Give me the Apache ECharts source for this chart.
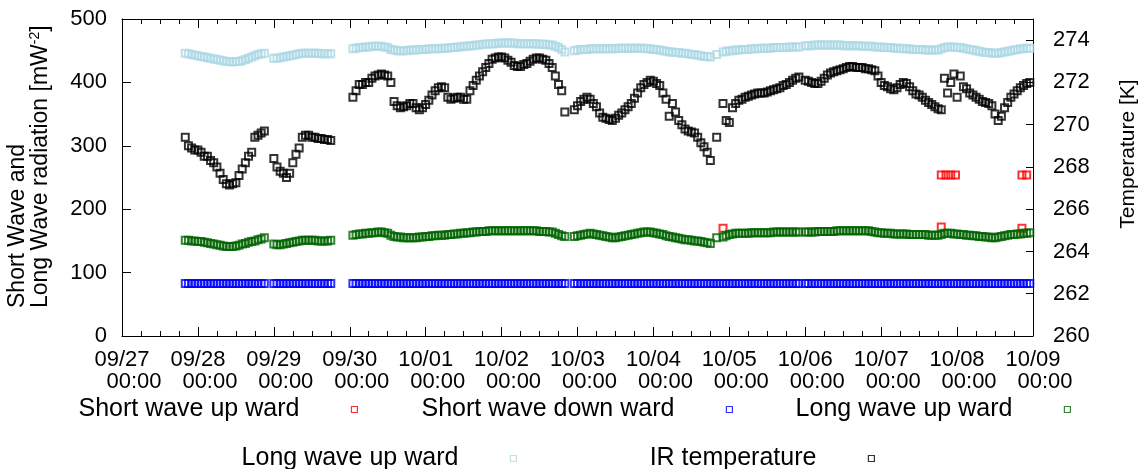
<!DOCTYPE html>
<html>
<head>
<meta charset="utf-8">
<script src="https://cdn.jsdelivr.net/npm/echarts@6/dist/echarts.min.js"></script>
<style>
  html, body { margin: 0; padding: 0; background: #fff; }
  #chart { width: 1140px; height: 469px; }
</style>
</head>
<body>
<div id="chart"></div>
<script>
// x axis: hours since 09/27 00:00, one tick label per day
var dayLabels = ['09/27', '09/28', '09/29', '09/30', '10/01', '10/02', '10/03',
  '10/04', '10/05', '10/06', '10/07', '10/08', '10/09']
var timeLabel = '00:00'
var firstHour = 20   // first hourly sample is 09/27 20:00

// IR temperature [K], hourly from 09/27 20:00 (null = no data)
var irTemp = [
  269.4, 269.0, 268.9, 268.8,
  268.8, 268.7, 268.5, 268.5, 268.3, 268.2, 268.0, 267.7, 267.4, 267.2, 267.15, 267.2,
  267.25, 267.6, 267.9, 268.2, 268.5, 268.7, 269.4, 269.5, 269.6, 269.7, null, null,
  268.4, 268.0, 267.8, 267.7, 267.5, 267.7, 268.2, 268.6, 268.9, 269.4, 269.5, 269.5,
  269.4, 269.4, 269.35, 269.35, 269.3, 269.3, 269.25, null, null, null, null, null,
  null, 271.3, 271.6, 271.9, 271.9, 272.0, 272.0, 272.2, 272.3, 272.35, 272.4, 272.35,
  272.3, 272.0, 271.1, 270.9, 270.8, 270.85, 270.9, 271.0, 271.0, 270.8, 270.7, 270.8,
  270.95, 271.15, 271.4, 271.6, 271.75, 271.8, 271.75, 271.3, 271.2, 271.25, 271.3, 271.3,
  271.2, 271.2, 271.6, 271.85, 272.1, 272.3, 272.5, 272.7, 272.9, 273.1, 273.15, 273.2,
  273.2, 273.15, 273.05, 272.95, 272.8, 272.75, 272.75, 272.85, 272.9, 273.0, 273.1, 273.15,
  273.15, 273.1, 273.05, 272.9, 272.7, 272.3, 271.9, 271.6, 270.6, null, null, 270.7,
  270.9, 271.1, 271.2, 271.3, 271.2, 271.0, 270.85, 270.55, 270.35, 270.3, 270.25, 270.2,
  270.3, 270.45, 270.55, 270.7, 270.85, 271.0, 271.25, 271.5, 271.75, 271.9, 272.0, 272.1,
  272.05, 271.95, 271.85, 271.5, 271.2, 270.4, 271.0, 270.6, 270.2, 270.0, 269.8, 269.7,
  269.65, 269.6, 269.4, 269.15, 268.95, 268.7, 268.3, null, 269.4, null, 271.0, 270.2,
  270.1, 270.8, 271.0, 271.15, 271.2, 271.3, 271.35, 271.4, 271.45, 271.5, 271.5, 271.5,
  271.55, 271.6, 271.65, 271.7, 271.75, 271.85, 271.9, 272.0, 272.1, 272.2, 272.25, null,
  272.1, 272.05, 272.0, 271.95, 271.95, 272.05, 272.2, 272.35, 272.45, 272.5, 272.55, 272.6,
  272.65, 272.7, 272.75, 272.75, 272.7, 272.7, 272.7, 272.65, 272.65, 272.6, 272.55, 272.3,
  272.0, 271.85, 271.8, 271.7, 271.65, 271.75, 271.9, 272.0, 271.95, 271.8, 271.6, 271.45,
  271.4, 271.3, 271.15, 271.05, 270.95, 270.85, 270.75, 270.7, 272.2, 271.5, 272.0, 272.4,
  271.3, 272.3, 271.8, 271.7, 271.5, 271.4, 271.3, 271.2, 271.1, 271.05, 271.0, 270.9,
  270.5, 270.2, 270.4, 270.8, 271.05, 271.3, 271.45, 271.6, 271.75, 271.85, 271.95, 272.0
]

// long wave up ward (green) [W m-2]
var longUp = [
  151, 151, 150, 150,
  149, 149, 148, 147, 146, 145, 144, 143, 142, 141, 141, 141,
  142, 143, 145, 146, 148, 149, 150, 152, 153, 155, null, null,
  145, 144, 144, 145, 146, 147, 148, 149, 150, 151, 151, 151,
  151, 151, 150, 150, 150, 150, 151, null, null, null, null, null,
  null, 159, 160, 161, 161, 162, 162, 163, 163, 164, 164, 163,
  162, 159, 157, 156, 156, 155, 155, 155, 155, 155, 156, 156,
  157, 157, 158, 158, 159, 159, 159, 160, 160, 161, 161, 162,
  162, 163, 163, 164, 164, 165, 165, 165, 166, 166, 166, 166,
  166, 166, 166, 166, 166, 166, 166, 166, 166, 166, 166, 166,
  165, 165, 165, 164, 164, 162, 160, 158, 157, null, null, 157,
  158, 159, 160, 161, 162, 161, 160, 159, 158, 157, 156, 155,
  155, 156, 157, 158, 159, 160, 161, 162, 163, 164, 164, 164,
  163, 162, 161, 160, 158, 157, 156, 155, 154, 153, 152, 152,
  151, 150, 150, 149, 148, 147, 146, null, 155, null, 156, 158,
  160, 161, 162, 162, 162, 162, 162, 163, 163, 163, 163, 163,
  163, 163, 164, 164, 164, 164, 164, 164, 164, 164, 164, null,
  164, 164, 164, 164, 165, 165, 165, 165, 165, 165, 166, 166,
  166, 166, 166, 166, 166, 166, 166, 166, 166, 165, 164, 163,
  163, 162, 162, 162, 161, 161, 161, 161, 161, 160, 160, 160,
  160, 160, 160, 159, 159, 159, 159, 160, 162, 162, 162, 161,
  161, 160, 160, 159, 159, 158, 158, 157, 157, 156, 156, 155,
  155, 156, 157, 158, 159, 160, 160, 161, 161, 162, 162, 163
]

// second "long wave up ward" series (light blue) [W m-2]
var longDown = [
  446, 445, 444, 443,
  442, 441, 440, 439, 438, 437, 436, 435, 434, 433, 433, 432,
  433, 433, 434, 436, 438, 440, 442, 444, 445, 446, null, null,
  438, 438, 439, 440, 441, 442, 443, 444, 445, 446, 446, 446,
  446, 446, 446, 445, 445, 445, 445, null, null, null, null, null,
  null, 453, 454, 455, 455, 456, 456, 457, 457, 457, 457, 456,
  455, 452, 451, 450, 450, 450, 450, 451, 451, 451, 452, 452,
  452, 453, 453, 453, 453, 454, 454, 454, 455, 455, 456, 456,
  457, 457, 458, 458, 459, 459, 460, 460, 461, 461, 461, 462,
  462, 462, 462, 462, 462, 461, 461, 461, 461, 461, 461, 461,
  460, 460, 460, 459, 459, 457, 455, 452, 448, null, null, 450,
  451, 452, 452, 452, 453, 453, 453, 453, 453, 453, 453, 453,
  453, 454, 454, 454, 454, 454, 454, 454, 454, 454, 453, 453,
  452, 452, 451, 450, 449, 448, 448, 447, 447, 446, 446, 445,
  444, 444, 443, 442, 441, 441, 440, null, 444, null, 448, 449,
  450, 450, 451, 451, 452, 452, 452, 453, 453, 453, 454, 454,
  454, 454, 455, 455, 455, 455, 455, 456, 456, 456, 456, null,
  458, 458, 458, 459, 459, 459, 459, 459, 459, 459, 459, 459,
  458, 458, 458, 458, 458, 458, 457, 457, 457, 457, 456, 456,
  456, 455, 455, 455, 454, 454, 454, 453, 453, 453, 452, 452,
  452, 452, 451, 451, 451, 451, 451, 453, 455, 456, 456, 456,
  455, 455, 454, 453, 452, 451, 450, 449, 448, 447, 447, 446,
  446, 446, 447, 448, 449, 450, 451, 452, 453, 453, 454, 454
]

// short wave down ward (blue) [W m-2]
var shortDown = [
  83, 83, 83, 83,
  83, 83, 83, 83, 83, 83, 83, 83, 83, 83, 83, 83,
  83, 83, 83, 83, 83, 83, 83, 83, 83, 83, null, null,
  83, 83, 83, 83, 83, 83, 83, 83, 83, 83, 83, 83,
  83, 83, 83, 83, 83, 83, 83, null, null, null, null, null,
  null, 83, 83, 83, 83, 83, 83, 83, 83, 83, 83, 83,
  83, 83, 83, 83, 83, 83, 83, 83, 83, 83, 83, 83,
  83, 83, 83, 83, 83, 83, 83, 83, 83, 83, 83, 83,
  83, 83, 83, 83, 83, 83, 83, 83, 83, 83, 83, 83,
  83, 83, 83, 83, 83, 83, 83, 83, 83, 83, 83, 83,
  83, 83, 83, 83, 83, 83, 83, 83, 83, null, null, 83,
  83, 83, 83, 83, 83, 83, 83, 83, 83, 83, 83, 83,
  83, 83, 83, 83, 83, 83, 83, 83, 83, 83, 83, 83,
  83, 83, 83, 83, 83, 83, 83, 83, 83, 83, 83, 83,
  83, 83, 83, 83, 83, 83, 83, 83, 83, 83, 83, 83,
  83, 83, 83, 83, 83, 83, 83, 83, 83, 83, 83, 83,
  83, 83, 83, 83, 83, 83, 83, 83, 83, 83, 83, null,
  83, 83, 83, 83, 83, 83, 83, 83, 83, 83, 83, 83,
  83, 83, 83, 83, 83, 83, 83, 83, 83, 83, 83, 83,
  83, 83, 83, 83, 83, 83, 83, 83, 83, 83, 83, 83,
  83, 83, 83, 83, 83, 83, 83, 83, 83, 83, 83, 83,
  83, 83, 83, 83, 83, 83, 83, 83, 83, 83, 83, 83,
  83, 83, 83, 83, 83, 83, 83, 83, 83, 83, 83, 83
]

// short wave up ward (red): only a few samples are in range
var shortUpHours = [190, 259, 259, 260.5, 262, 263.5, 284.5, 284.5, 286]
var shortUpValues = [170, 172, 254, 254, 254, 254, 170, 254, 254]

function hourly (vals) {
  var out = []
  for (var i = 0; i < vals.length; i++) {
    if (vals[i] != null) out.push([firstHour + i, vals[i]])
  }
  return out
}
function pairs (xs, ys) {
  return xs.map(function (x, i) { return [x, ys[i]] })
}

var FONT = 'Liberation Sans'
function ticks (len) {
  return { show: true, inside: true, length: len, lineStyle: { color: '#000', width: 1 } }
}
var minorStyle = { show: true, splitNumber: 4, length: 5, lineStyle: { color: '#000', width: 1 } }
var border = { show: true, onZero: false, lineStyle: { color: '#000', width: 1 } }

function sq (name, color, data, yIndex) {
  return {
    name: name,
    type: 'scatter',
    data: data,
    yAxisIndex: yIndex || 0,
    symbol: 'rect',
    symbolSize: 7,
    itemStyle: { color: 'rgba(255,255,255,0)', borderColor: color, borderWidth: 2 },
    emphasis: { disabled: true }
  }
}

function legendAt (name, right, top) {
  return {
    data: [name],
    right: right,
    top: top,
    padding: 0,
    align: 'right',
    itemWidth: 6,
    itemHeight: 6,
    selectedMode: false,
    formatter: function (n) { return n.trim() },
    itemStyle: { borderWidth: 1.2 },
    textStyle: { fontFamily: FONT, fontSize: 25, color: '#000', padding: [0, 47, 0, 0] }
  }
}

var series = [
  sq('Short wave up ward', '#ff0000', pairs(shortUpHours, shortUpValues)),
  sq('Short wave down ward', '#0000ff', hourly(shortDown)),
  sq('Long wave up ward', '#006400', hourly(longUp)),
  sq('Long wave up ward ', '#add8e6', hourly(longDown)),
  sq('IR temperature', '#000000', hourly(irTemp), 1)
]

var chart = echarts.init(document.getElementById('chart'))
chart.setOption({
  animation: false,
  backgroundColor: '#fff',
  grid: [
    { left: 122, right: 107, top: 19, bottom: 133 },
    // same width, 12px to the right: carries the second label row ("00:00")
    { left: 134, right: 95, top: 19, bottom: 133 }
  ],
  xAxis: [{
    type: 'value', min: 0, max: 288, interval: 24,
    axisLine: border,
    axisTick: ticks(9),
    minorTick: minorStyle,
    splitLine: { show: false },
    axisLabel: {
      margin: 13, fontFamily: FONT, fontSize: 22, color: '#000',
      showMinLabel: true, showMaxLabel: true,
      formatter: function (v) { return dayLabels[v / 24] }
    }
  }, {
    type: 'value', min: 0, max: 288, interval: 24, position: 'top',
    axisLine: border,
    axisTick: ticks(9),
    minorTick: minorStyle,
    splitLine: { show: false },
    axisLabel: { show: false }
  }, {
    gridIndex: 1, type: 'value', min: 0, max: 288, interval: 24,
    axisLine: { show: false, onZero: false }, axisTick: { show: false }, splitLine: { show: false },
    axisLabel: {
      margin: 35, fontFamily: FONT, fontSize: 22, color: '#000',
      showMinLabel: true, showMaxLabel: true,
      formatter: function () { return timeLabel }
    }
  }],
  yAxis: [{
    type: 'value', min: 0, max: 500, interval: 100,
    axisLine: border,
    axisTick: ticks(9),
    splitLine: { show: false },
    axisLabel: { margin: 15, fontFamily: FONT, fontSize: 22, color: '#000' }
  }, {
    type: 'value', min: 260, max: 275, interval: 2, position: 'right',
    axisLine: border,
    axisTick: ticks(7),
    splitLine: { show: false },
    axisLabel: { margin: 20, fontFamily: FONT, fontSize: 22, color: '#000', showMaxLabel: false }
  }, {
    gridIndex: 1, type: 'value', min: 0, max: 500, show: false
  }],
  legend: [
    legendAt('Short wave up ward', 782, 397),
    legendAt('Short wave down ward', 407, 397),
    legendAt('Long wave up ward', 69, 397),
    legendAt('Long wave up ward ', 623, 446),
    legendAt('IR temperature', 265, 446)
  ],
  graphic: [{
    type: 'text', x: 6, y: 308, rotation: Math.PI / 2,
    style: {
      text: 'Short Wave and\nLong Wave radiation [mW{sup|-2}]',
      fontFamily: FONT, fontSize: 23, fill: '#000', lineHeight: 23,
      align: 'left', verticalAlign: 'top',
      rich: { sup: { fontFamily: FONT, fontSize: 14, fill: '#000', padding: [0, 0, 10, 0] } }
    }
  }, {
    type: 'text', x: 1128, y: 154, rotation: Math.PI / 2,
    style: {
      text: 'Temperature [K]', fontFamily: FONT, fontSize: 21, fill: '#000',
      align: 'center', verticalAlign: 'middle'
    }
  }],
  series: series
})
</script>
</body>
</html>
